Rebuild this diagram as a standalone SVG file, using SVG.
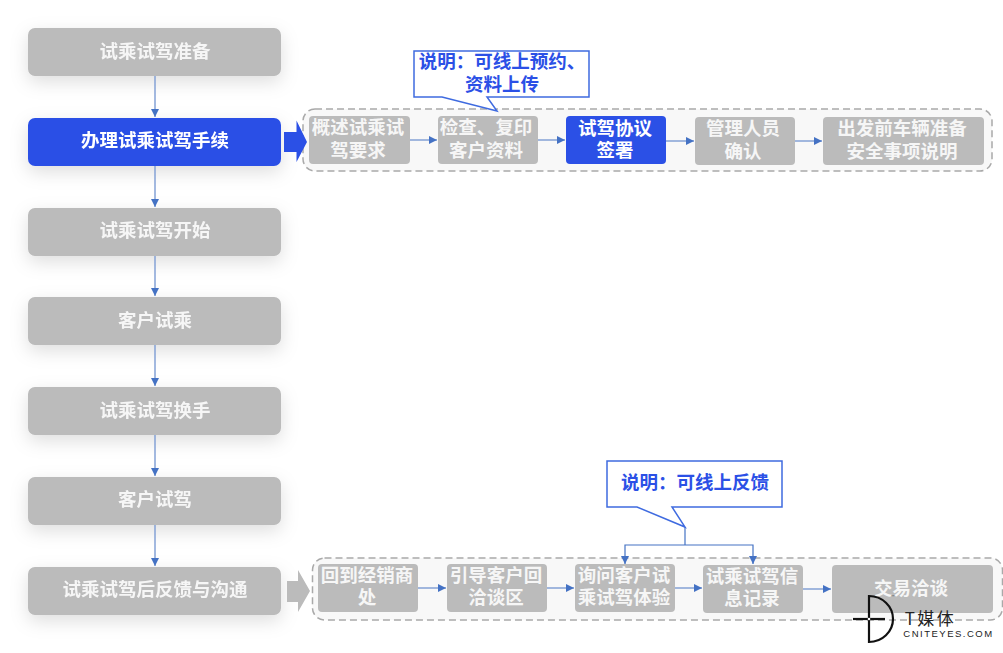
<svg xmlns="http://www.w3.org/2000/svg" width="1003" height="653" viewBox="0 0 1003 653">
<defs>
<filter id="sh" x="-15%" y="-50%" width="130%" height="220%"><feDropShadow dx="0" dy="6" stdDeviation="9" flood-color="#000" flood-opacity="0.13"/></filter>
<marker id="ah" markerUnits="userSpaceOnUse" markerWidth="9" markerHeight="9" refX="8" refY="4" orient="auto"><path d="M0 0L8 4L0 8Z" fill="#4472c4"/></marker>
</defs>
<style>
text{font-family:"Noto Sans CJK SC","Noto Sans",sans-serif;font-size:18.5px;font-weight:700;text-anchor:middle;fill:#f6f6f6}
.g{fill:#bbbbbb}.b{fill:#2b50e6}
.grp{fill:#f8f8f8;stroke:#a9a9a9;stroke-width:1.5;stroke-dasharray:7 4}
.c{fill:none;stroke:#85a2d6;stroke-width:1.5;marker-end:url(#ah)}
.c2{fill:none;stroke:#4472c4;stroke-width:1.2}
.call{fill:#fff;stroke:#3f6be0;stroke-width:1.5}
.ct{fill:#2b50e6;font-size:18.5px}
</style>
<rect width="1003" height="653" fill="#fff"/>
<g id="group1"><rect class="grp" x="303" y="109" width="689" height="62" rx="12"/></g>
<g id="group2"><rect class="grp" x="312.500" y="558" width="690" height="62" rx="12"/></g>
<g id="n1" filter="url(#sh)"><rect class="g" x="28" y="28" width="253" height="48" rx="7"/><text x="155" y="58">试乘试驾准备</text></g>
<g id="n2" filter="url(#sh)"><rect class="b" x="28" y="118" width="253" height="48" rx="7"/><text x="155" y="147" style="fill:#fff">办理试乘试驾手续</text></g>
<g id="n3" filter="url(#sh)"><rect class="g" x="28" y="208" width="253" height="48" rx="7"/><text x="155" y="237">试乘试驾开始</text></g>
<g id="n4" filter="url(#sh)"><rect class="g" x="28" y="297" width="253" height="48" rx="7"/><text x="155" y="327">客户试乘</text></g>
<g id="n5" filter="url(#sh)"><rect class="g" x="28" y="387" width="253" height="48" rx="7"/><text x="155" y="417">试乘试驾换手</text></g>
<g id="n6" filter="url(#sh)"><rect class="g" x="28" y="477" width="253" height="48" rx="7"/><text x="155" y="506">客户试驾</text></g>
<g id="n7" filter="url(#sh)"><rect class="g" x="28" y="567" width="253" height="48" rx="7"/><text x="155" y="596">试乘试驾后反馈与沟通</text></g>
<g id="a1"><path class="b" d="M284 132H296.500V120.500L307 142L296.500 162V152H284Z"/></g>
<g id="a2"><path class="g" d="M287 581H298V570L310 591L298 612V602H287Z"/></g>
<g id="s1"><rect class="g" x="309" y="116" width="101" height="48" rx="4"/><text x="358" y="134">概述试乘试</text><text x="358" y="157">驾要求</text></g>
<g id="s2"><rect class="g" x="438" y="116" width="100" height="48" rx="4"/><text x="486" y="134">检查、复印</text><text x="486" y="157">客户资料</text></g>
<g id="s3"><rect class="b" x="566" y="116" width="100" height="48" rx="4"/><text x="615" y="135" style="fill:#fff">试驾协议</text><text x="615" y="157" style="fill:#fff">签署</text></g>
<g id="s4"><rect class="g" x="695" y="117" width="100" height="48" rx="4"/><text x="743" y="135">管理人员</text><text x="743" y="158">确认</text></g>
<g id="s5"><rect class="g" x="823" y="117" width="161" height="48" rx="4"/><text x="902" y="135">出发前车辆准备</text><text x="902" y="158">安全事项说明</text></g>
<g id="t1"><rect class="g" x="318" y="564" width="100" height="48" rx="4"/><text x="367" y="582">回到经销商</text><text x="367" y="604">处</text></g>
<g id="t2"><rect class="g" x="447" y="564" width="100" height="48" rx="4"/><text x="496" y="582">引导客户回</text><text x="496" y="604">洽谈区</text></g>
<g id="t3"><rect class="g" x="575" y="564" width="100" height="48" rx="4"/><text x="624" y="582">询问客户试</text><text x="624" y="604">乘试驾体验</text></g>
<g id="t4"><rect class="g" x="703" y="565" width="100" height="48" rx="4"/><text x="752" y="583">试乘试驾信</text><text x="752" y="605">息记录</text></g>
<g id="t5"><rect class="g" x="832" y="565" width="161" height="48" rx="4"/><text x="911" y="595">交易洽谈</text></g>
<g id="connectors">
<path class="c" d="M155 76V117"/><path class="c" d="M155 166V207"/><path class="c" d="M155 256V296"/><path class="c" d="M155 345V386"/><path class="c" d="M155 435V476"/><path class="c" d="M155 525V566"/>
<path class="c" d="M410 140H437"/><path class="c" d="M538 140H565"/><path class="c" d="M666 141H694"/><path class="c" d="M795 141H822"/>
<path class="c" d="M418 588H446"/><path class="c" d="M547 588H574"/><path class="c" d="M675 588H702"/><path class="c" d="M803 589H831"/>
<path class="c2" d="M685 527V545"/>
<path class="c" style="stroke:#4472c4;stroke-width:1.2" d="M685 545H625V564"/>
<path class="c" style="stroke:#4472c4;stroke-width:1.2" d="M685 545H753V564"/>
</g>
<g id="callout1"><path class="call" d="M414 51H589V97H487L497 111L442 97H414Z"/><text class="ct" x="502" y="68">说明：可线上预约、</text><text class="ct" x="502" y="91">资料上传</text></g>
<g id="callout2"><path class="call" d="M607 461H782V507H672L685 527L637 507H607Z"/><text class="ct" x="695" y="489">说明：可线上反馈</text></g>
<g id="logo">
<path d="M869 596V642A24 23 0 0 0 869 596Z" fill="none" stroke="#111" stroke-width="2.200"/>
<path d="M853 619H885" stroke="#111" stroke-width="2.200"/>
<circle cx="869" cy="619" r="1.300" fill="#fff"/>
<text x="893" y="598" style="font-size:4px;font-weight:400;fill:#666">™</text>
<text x="930.500" y="625" style="font-size:17px;font-weight:400;letter-spacing:2.500px;fill:#222">T媒体</text>
<text x="948.500" y="637" style="font-size:9.500px;font-weight:400;font-family:'Liberation Sans',sans-serif;letter-spacing:1.500px;fill:#222">CNITEYES.COM</text>
</g>
</svg>
